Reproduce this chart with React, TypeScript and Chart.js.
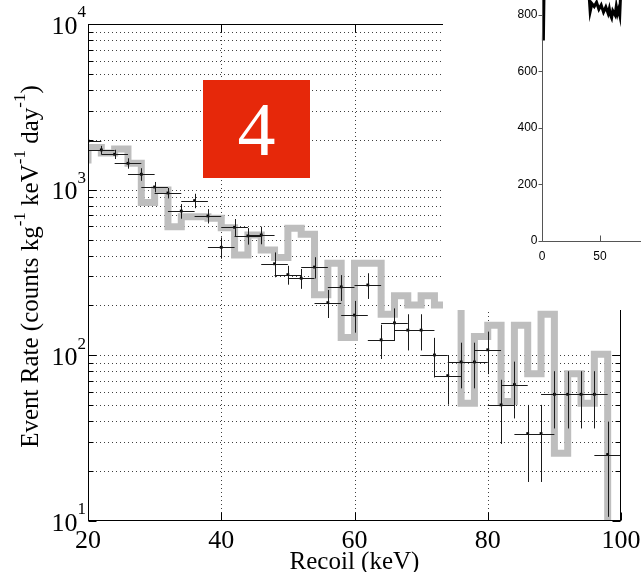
import React, { useEffect, useRef } from "react";
import { Chart, registerables } from "chart.js";
Chart.register(...registerables);

// ---- Main plot: measured event rate (black points), bin centres in keV ----
const dataKeV = [20, 22, 24, 26, 28, 30, 32, 34, 36, 38, 40, 42, 44, 46, 48, 50, 52, 54, 56, 58, 60, 62, 64, 66, 68, 70, 72, 74, 76, 78, 80, 82, 84, 86, 88, 90, 92, 94, 96, 98];
const dataRate = [1967, 1738, 1636, 1443, 1239, 1038, 955, 743, 859, 694, 449, 593, 526, 533, 357, 307, 292, 341, 208, 259, 175, 266, 124, 157, 142, 142, 100.5, 75.4, 91.2, 91.2, 108, 50.2, 66.6, 33.7, 33.7, 58.2, 58.2, 58.2, 58.2, 25.2];
const dataErr = [110, 100, 105, 104, 108, 75, 69, 75, 86, 69, 66, 72, 60, 65, 61, 40, 40, 50, 40, 46, 38, 47, 29, 35, 35, 35, 27, 25, 28, 28, 31, 21, 25, 16.5, 16.5, 22, 22, 22, 22, 14.6];
const binHalfWidth = 2;

// ---- Main plot: simulated spectrum (grey stairs), bin start in keV ----
const simKeV = [18, 20, 22, 24, 26, 28, 30, 32, 34, 36, 38, 40, 42, 44, 46, 48, 50, 52, 54, 56, 58, 60, 62, 64, 66, 68, 70, 72, 74, 75, 76, 76, 78, 80, 82, 84, 86, 88, 90, 92, 94, 96, 98, 100];
const simRate = [1510, 1799, 1666, 1762, 1442, 837, 995, 598, 687, 687, 671, 590, 404, 533, 432, 389, 585, 538, 232, 360, 128, 360, 360, 177, 229, 201, 229, 201, 201, null, 190, 51.4, 130, 152, 52.6, 152, 77.3, 177, 25.6, 77.3, 51.4, 101.6, 5, 5];

// ---- Axes ----
const xTicks = [20, 40, 60, 80, 100];
const yExponents = [1, 2, 3, 4];
const xTitle = "Recoil (keV)";
const yTitleParts = [
  { t: "Event Rate (counts kg", sup: false },
  { t: "-1", sup: true },
  { t: " keV", sup: false },
  { t: "-1", sup: true },
  { t: " day", sup: false },
  { t: "-1", sup: true },
  { t: ")", sup: false },
];

// ---- Inset (partially visible) ----
const insetT = [1.2, 1.8, 10, 20, 30, 40, 41.5, 43, 45, 47, 49, 51, 53, 55, 57, 58, 59, 60, 61, 63, 64, 65, 66, 67, 68, 75, 85];
const insetV = [710, 900, 920, 910, 925, 905, 812, 840, 830, 845, 820, 835, 810, 828, 805, 822, 800, 790, 815, 800, 830, 805, 820, 800, 900, 910, 905];
const insetXTicks = [0, 50];
const insetYTicks = [0, 200, 400, 600, 800];
const insetXMax = 85.3;
const insetYMax = 853;

const badgeText = "4";

const SERIF = '"Liberation Serif", "Times New Roman", Times, serif';
const SANS = '"Liberation Sans", Arial, Helvetica, sans-serif';
const TICK_FONT = `26px ${SERIF}`;
const SUP_FONT = `17px ${SERIF}`;
const TITLE_FONT = `25px ${SERIF}`;

const framePlugin = {
  id: "frame",
  beforeDatasetsDraw(chart: any) {
    const { ctx, chartArea: a, scales } = chart;
    const x = scales.x, y = scales.y;
    ctx.save();
    ctx.strokeStyle = "rgba(0,0,0,0.75)";
    ctx.lineWidth = 1;
    ctx.setLineDash([1, 3]);
    ctx.beginPath();
    for (const v of xTicks) {
      if (v <= 20 || v >= 100) continue;
      const px = Math.round(x.getPixelForValue(v)) + 0.5;
      ctx.moveTo(px, a.top);
      ctx.lineTo(px, a.bottom);
    }
    for (let e = 1; e < 4; e++) {
      for (let m = 1; m < 10; m++) {
        const v = m * Math.pow(10, e);
        if (v <= 10) continue;
        const py = Math.round(y.getPixelForValue(v)) + 0.5;
        ctx.moveTo(a.left, py);
        ctx.lineTo(a.right, py);
      }
    }
    ctx.stroke();
    ctx.restore();
  },
  afterDatasetsDraw(chart: any) {
    const { ctx, chartArea: a, scales } = chart;
    const x = scales.x, y = scales.y;
    // error bars
    ctx.save();
    ctx.beginPath();
    ctx.rect(a.left, a.top, a.right - a.left, a.bottom - a.top);
    ctx.clip();
    ctx.strokeStyle = "#1a1a1a";
    ctx.lineWidth = 1;
    ctx.beginPath();
    dataKeV.forEach((k, i) => {
      const v = dataRate[i];
      const px = Math.round(x.getPixelForValue(k)) + 0.5;
      const py = Math.round(y.getPixelForValue(v)) + 0.5;
      ctx.moveTo(x.getPixelForValue(k - binHalfWidth), py);
      ctx.lineTo(x.getPixelForValue(k + binHalfWidth), py);
      ctx.moveTo(px, y.getPixelForValue(v + dataErr[i]));
      ctx.lineTo(px, y.getPixelForValue(Math.max(v - dataErr[i], 0.01)));
    });
    ctx.stroke();
    ctx.restore();

    // box and inner ticks
    ctx.save();
    ctx.strokeStyle = "#000";
    ctx.lineWidth = 1;
    const L = Math.round(a.left) + 0.5, R = Math.round(a.right) - 0.5;
    const T = Math.round(a.top) + 0.5, B = Math.round(a.bottom) - 0.5;
    ctx.strokeRect(L, T, R - L, B - T);
    ctx.beginPath();
    for (let e = 1; e <= 4; e++) {
      for (let m = 1; m < 10; m++) {
        const v = m * Math.pow(10, e);
        if (v > 10000) break;
        const len = m === 1 ? 8 : 5;
        const py = Math.round(y.getPixelForValue(v)) + 0.5;
        ctx.moveTo(L, py); ctx.lineTo(L + len, py);
        ctx.moveTo(R, py); ctx.lineTo(R - len, py);
      }
    }
    for (const v of xTicks) {
      const px = Math.round(x.getPixelForValue(v)) + 0.5;
      ctx.moveTo(px, B); ctx.lineTo(px, B - 8);
      ctx.moveTo(px, T); ctx.lineTo(px, T + 8);
    }
    ctx.stroke();

    // tick labels
    ctx.fillStyle = "#000";
    ctx.textBaseline = "middle";
    ctx.textAlign = "center";
    ctx.font = TICK_FONT;
    for (const v of xTicks) {
      ctx.fillText(String(v), x.getPixelForValue(v), a.bottom + 20);
    }
    ctx.textAlign = "left";
    for (const e of yExponents) {
      const py = y.getPixelForValue(Math.pow(10, e));
      ctx.font = SUP_FONT;
      const sw = ctx.measureText(String(e)).width;
      ctx.font = TICK_FONT;
      const bw = ctx.measureText("10").width;
      const right = a.left - 2;
      ctx.fillText("10", right - sw - bw, py + 3);
      ctx.font = SUP_FONT;
      ctx.fillText(String(e), right - sw, py - 11);
    }
    // x title
    ctx.textAlign = "center";
    ctx.font = TITLE_FONT;
    ctx.fillText(xTitle, (a.left + a.right) / 2, a.bottom + 41);
    // y title (rotated, with superscripts)
    ctx.translate(31, (a.top + a.bottom) / 2 - 6);
    ctx.rotate(-Math.PI / 2);
    ctx.textAlign = "left";
    let total = 0;
    const widths = yTitleParts.map((p) => {
      ctx.font = p.sup ? SUP_FONT : TITLE_FONT;
      const w = ctx.measureText(p.t).width;
      total += w;
      return w;
    });
    let cx = -total / 2;
    yTitleParts.forEach((p, i) => {
      ctx.font = p.sup ? SUP_FONT : TITLE_FONT;
      ctx.fillText(p.t, cx, p.sup ? -10 : 0);
      cx += widths[i];
    });
    ctx.restore();
  },
};

const insetPlugin = {
  id: "insetFrame",
  afterDatasetsDraw(chart: any) {
    const { ctx, chartArea: a, scales } = chart;
    const x = scales.x, y = scales.y;
    ctx.save();
    ctx.strokeStyle = "#555";
    ctx.lineWidth = 1;
    const L = Math.round(a.left) + 0.5, B = Math.round(a.bottom) + 0.5;
    ctx.beginPath();
    ctx.moveTo(L, a.top); ctx.lineTo(L, B);
    ctx.lineTo(a.right, B);
    for (const v of insetYTicks) {
      const py = Math.round(y.getPixelForValue(v)) + 0.5;
      ctx.moveTo(L - 4, py); ctx.lineTo(L, py);
    }
    for (const v of insetXTicks) {
      const px = Math.round(x.getPixelForValue(v)) + 0.5;
      ctx.moveTo(px, B); ctx.lineTo(px, B - 6);
    }
    ctx.stroke();
    ctx.fillStyle = "#000";
    ctx.font = `12px ${SANS}`;
    ctx.textAlign = "right";
    ctx.textBaseline = "middle";
    for (const v of insetYTicks) {
      ctx.fillText(String(v), L - 5, y.getPixelForValue(v));
    }
    ctx.textAlign = "center";
    ctx.textBaseline = "top";
    for (const v of insetXTicks) {
      ctx.fillText(String(v), x.getPixelForValue(v), B + 9);
    }
    ctx.restore();
  },
};

export default function App() {
  const mainRef = useRef<HTMLCanvasElement | null>(null);
  const insetRef = useRef<HTMLCanvasElement | null>(null);

  useEffect(() => {
    if (!mainRef.current || !insetRef.current) return;
    const main = new Chart(mainRef.current, {
      type: "line",
      data: {
        datasets: [
          {
            label: "Data",
            data: dataKeV.map((k, i) => ({ x: k, y: dataRate[i] })),
            showLine: false,
            pointStyle: "rect",
            pointRadius: 2,
            pointBackgroundColor: "#000",
            pointBorderWidth: 0,
            borderColor: "#000",
            backgroundColor: "#000",
            order: 0,
          },
          {
            label: "Simulation",
            data: simKeV.map((k, i) => ({ x: k, y: simRate[i] })),
            stepped: "before",
            borderColor: "rgb(190,190,190)",
            borderWidth: 7,
            pointRadius: 0,
            fill: false,
            spanGaps: false,
            clip: 0,
            order: 1,
          },
        ],
      } as any,
      options: {
        responsive: false,
        animation: false,
        devicePixelRatio: 1,
        events: [],
        layout: { padding: { left: 88, top: 24, right: 20, bottom: 51 } },
        scales: {
          x: { type: "linear", min: 20, max: 100, display: false },
          y: { type: "logarithmic", min: 10, max: 10000, display: false },
        },
        plugins: { legend: { display: false }, tooltip: { enabled: false } },
      } as any,
      plugins: [framePlugin],
    });

    const inset = new Chart(insetRef.current, {
      type: "line",
      data: {
        datasets: [
          {
            label: "Inset",
            data: insetT.map((t, i) => ({ x: t, y: insetV[i] })),
            borderColor: "#000",
            borderWidth: 3,
            pointRadius: 0,
            fill: false,
            clip: false,
          },
        ],
      } as any,
      options: {
        responsive: false,
        animation: false,
        devicePixelRatio: 1,
        events: [],
        layout: { padding: { left: 99, top: 0, right: 0, bottom: 69 } },
        scales: {
          x: { type: "linear", min: 0, max: insetXMax, display: false },
          y: { type: "linear", min: 0, max: insetYMax, display: false },
        },
        plugins: { legend: { display: false }, tooltip: { enabled: false } },
      } as any,
      plugins: [insetPlugin],
    });

    return () => {
      main.destroy();
      inset.destroy();
    };
  }, []);

  return (
    <div
      style={{
        position: "fixed",
        left: 0,
        top: 0,
        width: 641,
        height: 572,
        overflow: "hidden",
        background: "#fff",
      }}
    >
      <canvas ref={mainRef} width={641} height={572} style={{ position: "absolute", left: 0, top: 0 }} />
      <div style={{ position: "absolute", left: 443, top: 0, width: 198, height: 310, background: "#fff" }}>
        <canvas ref={insetRef} width={198} height={310} style={{ position: "absolute", left: 0, top: 0 }} />
      </div>
      <div
        style={{
          position: "absolute",
          left: 203,
          top: 80,
          width: 107,
          height: 98,
          background: "#e6280a",
          color: "#fff",
          fontFamily: SERIF,
          fontSize: 76,
          lineHeight: "98px",
          textAlign: "center",
        }}
      >
        {badgeText}
      </div>
    </div>
  );
}
